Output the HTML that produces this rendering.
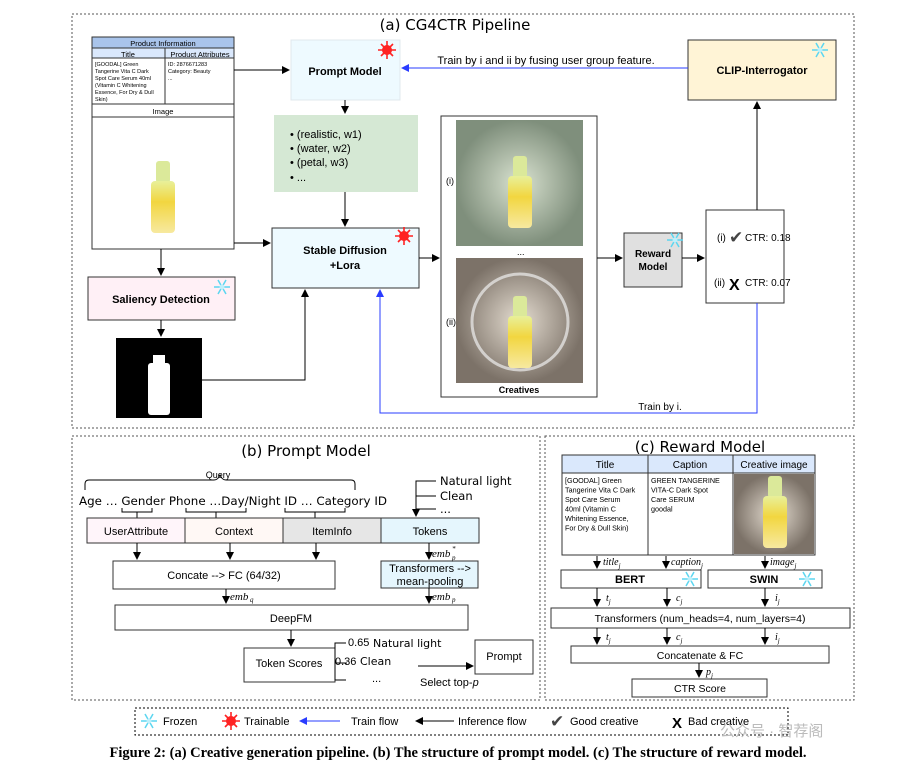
<!DOCTYPE html>
<html><head><meta charset="utf-8"><style>
body{margin:0;background:#fff}
svg{display:block;font-family:"Liberation Sans",sans-serif}
.m{font-family:"DejaVu Sans","Liberation Sans",sans-serif}
</style></head><body>
<svg width="916" height="768" viewBox="0 0 916 768" xmlns="http://www.w3.org/2000/svg">
<defs>
<marker id="a" markerWidth="8" markerHeight="8" refX="7" refY="4" orient="auto" markerUnits="userSpaceOnUse"><path d="M0,0L8,4L0,8z" fill="#000"/></marker>
<marker id="b" markerWidth="8" markerHeight="8" refX="7" refY="4" orient="auto" markerUnits="userSpaceOnUse"><path d="M0,0L8,4L0,8z" fill="#2a3cff"/></marker>
<linearGradient id="y" x1="0" y1="0" x2="0" y2="1"><stop offset="0" stop-color="#e8f09a"/><stop offset="0.4" stop-color="#f2d640"/><stop offset="1" stop-color="#f7e9a0"/></linearGradient>
<radialGradient id="g1"><stop offset="0" stop-color="#d9e2d0"/><stop offset="1" stop-color="#7f8f7c"/></radialGradient>
<radialGradient id="g2"><stop offset="0" stop-color="#e4dcd0"/><stop offset="1" stop-color="#7c7268"/></radialGradient>
<g id="bot"><rect x="-7" y="-34" width="14" height="22" rx="3" fill="#dbe99a"/><rect x="-12" y="-14" width="24" height="52" rx="4" fill="url(#y)"/></g>
<g id="sun"><circle r="5" fill="#f22"/><g stroke="#f22" stroke-width="1.6"><path d="M-9,0H9M0,-9V9M-6,-6L6,6M-6,6L6,-6"/></g></g>
<g id="snow" stroke="#5cd6f0" stroke-width="1.5"><path d="M-8,0H8M-4,-7L4,7M-4,7L4,-7"/><circle r="2.5" fill="#bff0fb" stroke="none"/></g>
</defs>
<g fill="none" stroke="#555" stroke-dasharray="2,2">
<rect x="72" y="14" width="782" height="414"/>
<rect x="72" y="436" width="468" height="264"/>
<rect x="545" y="436" width="309" height="264"/>
<rect x="135" y="708" width="653" height="27" stroke="#000"/>
</g>
<text x="455" y="30" text-anchor="middle" font-size="15" class="m">(a) CG4CTR Pipeline</text>
<text x="306" y="456" text-anchor="middle" font-size="15" class="m">(b) Prompt Model</text>
<text x="700" y="452" text-anchor="middle" font-size="15" class="m">(c) Reward Model</text>

<!-- product table -->
<g stroke="#333" stroke-width="1">
<rect x="92" y="37" width="142" height="212" fill="#fff"/>
<rect x="92" y="37" width="142" height="11" fill="#a9c4eb"/>
<rect x="92" y="48" width="142" height="10" fill="#dae8fc"/>
<line x1="165" y1="48" x2="165" y2="104"/><line x1="92" y1="104" x2="234" y2="104"/><line x1="92" y1="117" x2="234" y2="117"/>
</g>
<g font-size="7.5" text-anchor="middle"><text x="163" y="46">Product Information</text><text x="128" y="57">Title</text><text x="200" y="57">Product Attributes</text><text x="163" y="114">Image</text></g>
<g font-size="5.5"><text x="95" y="66">[GOODAL] Green</text><text x="95" y="73">Tangerine Vita C Dark</text><text x="95" y="80">Spot Care Serum 40ml</text><text x="95" y="87">(Vitamin C Whitening</text><text x="95" y="94">Essence, For Dry &amp; Dull</text><text x="95" y="101">Skin)</text>
<text x="168" y="66">ID: 2876671283</text><text x="168" y="73">Category: Beauty</text><text x="168" y="80">...</text></g>
<use href="#bot" x="163" y="195"/>

<rect x="291" y="40" width="109" height="60" fill="#eefaff" stroke="#e0e8ee"/>
<text x="345" y="75" text-anchor="middle" font-size="11" font-weight="bold">Prompt Model</text>
<use href="#sun" x="387" y="50"/>
<rect x="274" y="115" width="144" height="77" fill="#d5e8d4"/>
<g font-size="11"><text x="290" y="138">•  (realistic, w1)</text><text x="290" y="152">•  (water, w2)</text><text x="290" y="166">•  (petal, w3)</text><text x="290" y="181">•  ...</text></g>
<rect x="272" y="228" width="147" height="60" fill="#eefaff" stroke="#333"/>
<text x="345" y="254" text-anchor="middle" font-size="11" font-weight="bold">Stable Diffusion</text>
<text x="345" y="269" text-anchor="middle" font-size="11" font-weight="bold">+Lora</text>
<use href="#sun" x="404" y="236"/>
<rect x="88" y="277" width="147" height="43" fill="#fff0f6" stroke="#333"/>
<text x="161" y="303" text-anchor="middle" font-size="11" font-weight="bold">Saliency Detection</text>
<use href="#snow" x="222" y="287"/>
<rect x="116" y="338" width="86" height="80" fill="#000"/>
<rect x="153" y="355" width="12" height="10" fill="#fff"/><rect x="148" y="363" width="22" height="52" rx="3" fill="#fff"/>

<rect x="441" y="116" width="156" height="281" fill="#fff" stroke="#333"/>
<rect x="456" y="120" width="127" height="126" fill="url(#g1)"/>
<rect x="456" y="258" width="127" height="125" fill="url(#g2)"/>
<circle cx="520" cy="322" r="48" fill="none" stroke="#eee" stroke-width="3" opacity="0.7"/>
<use href="#bot" x="520" y="190"/><use href="#bot" x="520" y="330"/>
<g font-size="9"><text x="446" y="184">(i)</text><text x="446" y="325">(ii)</text><text x="517" y="255">...</text></g>
<text x="519" y="393" text-anchor="middle" font-size="9" font-weight="bold">Creatives</text>
<rect x="624" y="233" width="58" height="54" fill="#e0e0e0" stroke="#333"/>
<text x="653" y="257" text-anchor="middle" font-size="10" font-weight="bold">Reward</text><text x="653" y="270" text-anchor="middle" font-size="10" font-weight="bold">Model</text>
<use href="#snow" x="675" y="240"/>
<rect x="706" y="210" width="78" height="93" fill="#fff" stroke="#333"/>
<g font-size="10"><text x="717" y="241">(i)</text><text x="745" y="241">CTR: 0.18</text><text x="714" y="286">(ii)</text><text x="745" y="286">CTR: 0.07</text></g>
<text x="729" y="243" font-size="17" fill="#444">✔</text><text x="729" y="290" font-size="16" font-weight="bold">X</text>
<rect x="688" y="40" width="148" height="60" fill="#fff4d6" stroke="#333"/>
<text x="762" y="74" text-anchor="middle" font-size="11" font-weight="bold">CLIP-Interrogator</text>
<use href="#snow" x="820" y="50"/>
<text x="546" y="64" text-anchor="middle" font-size="11">Train by i and ii by fusing user group feature.</text>
<text x="660" y="410" text-anchor="middle" font-size="10">Train by i.</text>

<g stroke="#000" fill="none" marker-end="url(#a)">
<line x1="234" y1="70" x2="289" y2="70"/>
<line x1="345" y1="100" x2="345" y2="113"/>
<line x1="345" y1="192" x2="345" y2="226"/>
<line x1="234" y1="243" x2="270" y2="243"/>
<line x1="161" y1="249" x2="161" y2="275"/>
<line x1="161" y1="320" x2="161" y2="336"/>
<polyline points="202,380 305,380 305,290"/>
<line x1="419" y1="258" x2="439" y2="258"/>
<line x1="597" y1="258" x2="622" y2="258"/>
<line x1="682" y1="258" x2="704" y2="258"/>
<line x1="757" y1="210" x2="757" y2="102"/>
</g>
<g stroke="#2a3cff" fill="none" marker-end="url(#b)">
<line x1="688" y1="68" x2="402" y2="68"/>
<polyline points="757,303 757,413 380,413 380,290"/>
</g>

<!-- (b) -->
<text x="218" y="478" text-anchor="middle" font-size="9">Query</text>
<path d="M85,490 v-6 q0,-4 4,-4 h125 q4,0 6,-5 q2,5 6,5 h125 q4,0 4,4 v6" fill="none" stroke="#000"/>
<text x="79" y="505" class="m" font-size="11.5" textLength="308" lengthAdjust="spacingAndGlyphs">Age … Gender Phone …Day/Night  ID  … Category ID</text>
<g stroke="#000" fill="none"><path d="M122,508v4h30v-4M137,512v6M186,508v4h60v-4M216,512v6M285,508v4h60v-4M315,512v6"/></g>
<g class="m" font-size="11.5"><text x="440" y="485">Natural light</text><text x="440" y="500">Clean</text><text x="440" y="513">...</text></g>
<path d="M436,481h-20v28M416,496h20M416,509h20" stroke="#000" fill="none"/>
<g stroke="#333"><rect x="87" y="518" width="98" height="25" fill="#fff5fa"/><rect x="185" y="518" width="98" height="25" fill="#fff8f5"/><rect x="283" y="518" width="98" height="25" fill="#e6e6e6"/><rect x="381" y="518" width="98" height="25" fill="#e5f6fd"/>
<rect x="113" y="561" width="222" height="28" fill="#fff"/><rect x="381" y="561" width="97" height="27" fill="#e5f6fd"/><rect x="115" y="605" width="353" height="25" fill="#fff"/><rect x="244" y="648" width="91" height="34" fill="#fff"/><rect x="475" y="640" width="58" height="34" fill="#fff"/></g>
<g font-size="11" text-anchor="middle"><text x="136" y="535">UserAttribute</text><text x="234" y="535">Context</text><text x="332" y="535">ItemInfo</text><text x="430" y="535">Tokens</text>
<text x="224" y="579">Concate --&gt; FC (64/32)</text><text x="430" y="572">Transformers --&gt;</text><text x="430" y="585">mean-pooling</text><text x="291" y="622">DeepFM</text><text x="289" y="667">Token Scores</text><text x="504" y="660">Prompt</text></g>
<g stroke="#000" fill="none" marker-end="url(#a)">
<line x1="137" y1="543" x2="137" y2="559"/><line x1="230" y1="543" x2="230" y2="559"/><line x1="316" y1="543" x2="316" y2="559"/><line x1="429" y1="543" x2="429" y2="559"/>
<line x1="429" y1="588" x2="429" y2="603"/><line x1="226" y1="589" x2="226" y2="603"/><line x1="291" y1="630" x2="291" y2="646"/><line x1="418" y1="666" x2="473" y2="666"/><line x1="416" y1="509" x2="416" y2="516"/></g>
<g font-size="11" font-style="italic" font-family="Liberation Serif"><text x="432" y="557">emb</text><text x="432" y="600">emb</text><text x="230" y="600">emb</text></g>
<g font-size="7" font-style="italic" font-family="Liberation Serif"><text x="452" y="551">*</text><text x="452" y="560">p</text><text x="452" y="602">p</text><text x="250" y="602">q</text></g>
<path d="M346,643h-11v37h11M335,663h12" stroke="#000" fill="none"/>
<g font-size="11"><text x="348" y="646">0.65</text><text x="373" y="647" class="m">Natural light</text><text x="335" y="665">0.36</text><text x="360" y="665" class="m">Clean</text><text x="372" y="682">...</text><text x="420" y="686">Select top-<tspan font-style="italic">p</tspan></text></g>

<!-- (c) -->
<g stroke="#333"><rect x="562" y="455" width="253" height="100" fill="#fff"/><rect x="562" y="455" width="253" height="18" fill="#dae8fc"/><line x1="648" y1="455" x2="648" y2="555"/><line x1="733" y1="455" x2="733" y2="555"/></g>
<rect x="734" y="474" width="80" height="80" fill="url(#g2)"/><use href="#bot" x="775" y="510"/>
<g font-size="10" text-anchor="middle"><text x="605" y="468">Title</text><text x="690" y="468">Caption</text><text x="774" y="468">Creative image</text></g>
<g font-size="7.2"><text x="565" y="483">[GOODAL] Green</text><text x="565" y="492.5">Tangerine Vita C Dark</text><text x="565" y="502">Spot Care Serum</text><text x="565" y="511.5">40ml (Vitamin C</text><text x="565" y="521">Whitening Essence,</text><text x="565" y="530.5">For Dry &amp; Dull Skin)</text>
<text x="651" y="483">GREEN TANGERINE</text><text x="651" y="492.5">VITA-C Dark Spot</text><text x="651" y="502">Care SERUM</text><text x="651" y="511.5">goodal</text></g>
<g stroke="#333" fill="#fff"><rect x="561" y="570" width="140" height="18"/><rect x="708" y="570" width="114" height="18"/><rect x="551" y="608" width="299" height="20"/><rect x="571" y="646" width="258" height="17"/><rect x="632" y="679" width="135" height="18"/></g>
<g text-anchor="middle"><text x="630" y="583" font-size="11" font-weight="bold">BERT</text><text x="764" y="583" font-size="11" font-weight="bold">SWIN</text><text x="700" y="622" font-size="10.5">Transformers (num_heads=4, num_layers=4)</text><text x="700" y="659" font-size="10.5">Concatenate &amp; FC</text><text x="700" y="692" font-size="10.5">CTR Score</text></g>
<use href="#snow" x="690" y="579"/><use href="#snow" x="807" y="579"/>
<g stroke="#000" fill="none" marker-end="url(#a)">
<line x1="597" y1="556" x2="597" y2="568"/><line x1="666" y1="556" x2="666" y2="568"/><line x1="765" y1="556" x2="765" y2="568"/>
<line x1="597" y1="588" x2="597" y2="606"/><line x1="667" y1="588" x2="667" y2="606"/><line x1="765" y1="588" x2="765" y2="606"/>
<line x1="597" y1="628" x2="597" y2="644"/><line x1="667" y1="628" x2="667" y2="644"/><line x1="765" y1="628" x2="765" y2="644"/>
<line x1="699" y1="663" x2="699" y2="677"/></g>
<g font-size="10" font-style="italic" font-family="Liberation Serif"><text x="603" y="565">title<tspan font-size="7" dy="3">j</tspan></text><text x="671" y="565">caption<tspan font-size="7" dy="3">j</tspan></text><text x="770" y="565">image<tspan font-size="7" dy="3">j</tspan></text>
<text x="606" y="601">t<tspan font-size="7" dy="3">j</tspan></text><text x="676" y="601">c<tspan font-size="7" dy="3">j</tspan></text><text x="775" y="601">i<tspan font-size="7" dy="3">j</tspan></text>
<text x="606" y="640">t<tspan font-size="7" dy="3">j</tspan></text><text x="676" y="640">c<tspan font-size="7" dy="3">j</tspan></text><text x="775" y="640">i<tspan font-size="7" dy="3">j</tspan></text><text x="706" y="675">p<tspan font-size="7" dy="3">j</tspan></text></g>

<!-- legend -->
<use href="#snow" x="149" y="721"/><text x="163" y="725" font-size="11">Frozen</text>
<use href="#sun" x="231" y="721"/><text x="244" y="725" font-size="11">Trainable</text>
<line x1="340" y1="721" x2="300" y2="721" stroke="#2a3cff" marker-end="url(#b)"/><text x="351" y="725" font-size="11">Train flow</text>
<line x1="454" y1="721" x2="416" y2="721" stroke="#000" marker-end="url(#a)"/><text x="458" y="725" font-size="11">Inference flow</text>
<text x="550" y="727" font-size="17" fill="#444">✔</text><text x="570" y="725" font-size="11">Good creative</text>
<text x="672" y="728" font-size="15" font-weight="bold">X</text><text x="688" y="725" font-size="11">Bad creative</text>
<text x="720" y="736" font-size="15" fill="#bbb" font-family="Liberation Sans,Noto Sans CJK SC,sans-serif">公众号 · 智荐阁</text>
<text x="458" y="757" text-anchor="middle" font-size="14.5" font-weight="bold" font-family="Liberation Serif,serif">Figure 2: (a) Creative generation pipeline. (b) The structure of prompt model. (c) The structure of reward model.</text>
</svg>
</body></html>
